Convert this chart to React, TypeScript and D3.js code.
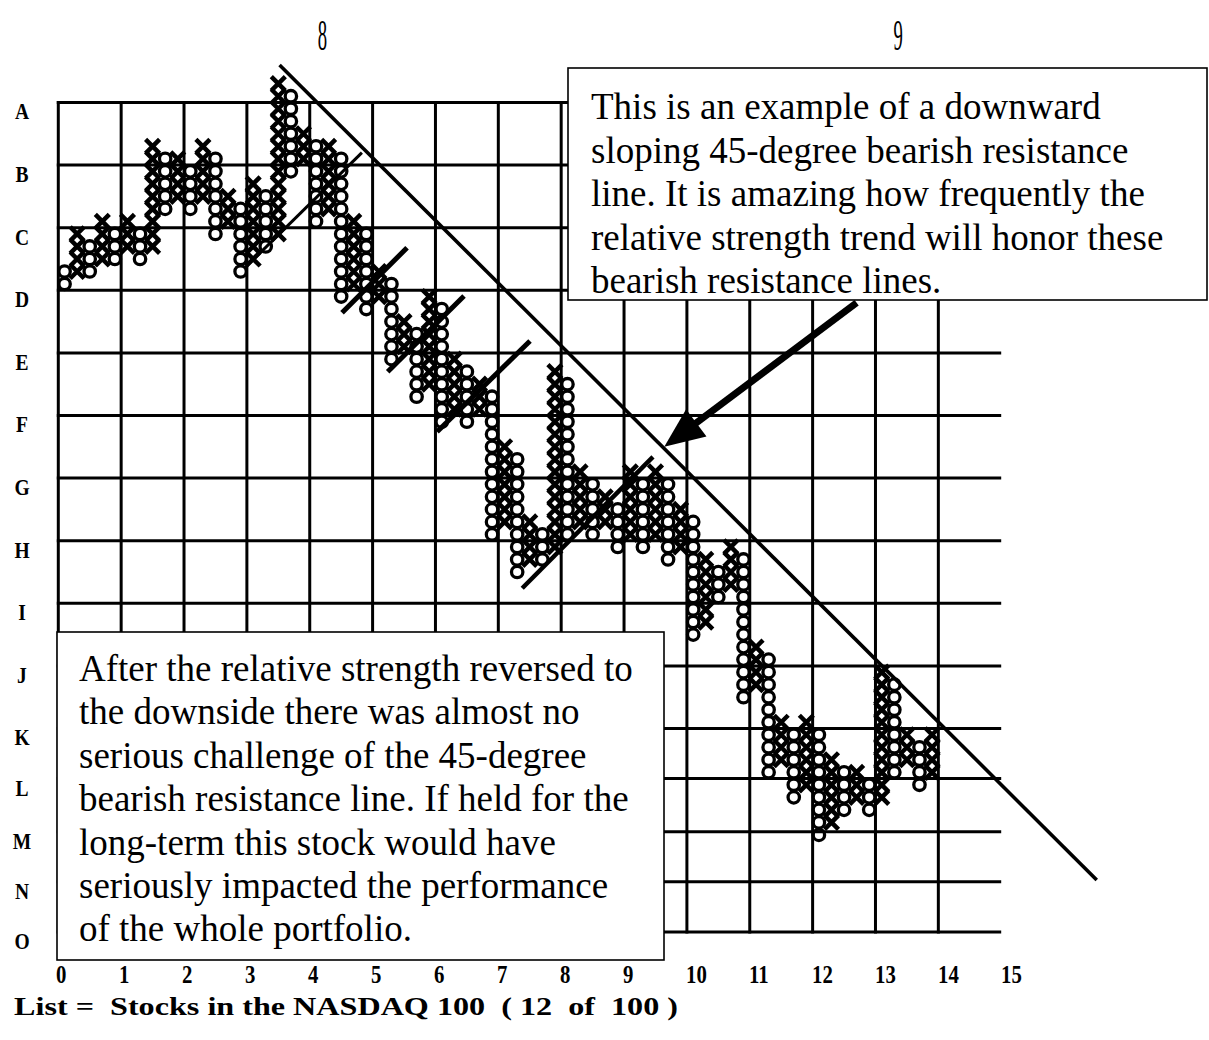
import React from "react";
import * as d3 from "d3";

// Row (box) letters on the left and the grid rows they mark (in box-row units from top)
const rowLabels = ["A", "B", "C", "D", "E", "F", "G", "H", "I", "J", "K", "L", "M", "N", "O"];
const rowLines = [1.5, 6.5, 11.5, 16.5, 21.5, 26.5, 31.5, 36.5, 41.5, 46.5, 51.5, 55.5, 59.75, 63.75, 67.75];
// Column tick labels along the bottom
const colLabels = ["0", "1", "2", "3", "4", "5", "6", "7", "8", "9", "10", "11", "12", "13", "14", "15"];
// Year markers above the chart (column position)
const yearLabels = ["8", "9"];
const yearCols = [21.0, 66.8];

// Point & figure columns: kind, top box row, bottom box row (row 0 = highest box)
const colKinds = "OXOXOXOXOXOXOXOXOXOXOXOXOXOXOXOXOXOXOXOXOXOXOXOXOXOXOXOXOXOXOXOXOXOXOX";
const colTops = [15, 12, 13, 11, 12, 11, 12, 5, 6, 6, 7, 5, 6, 9, 10, 8, 9, 0, 1, 4, 5, 5, 6, 11, 12, 15, 16, 19, 20, 17, 18, 22, 23, 24, 25, 29, 30, 35, 36, 23, 24, 31, 32, 33, 34, 31, 32, 31, 32, 34, 35, 38, 39, 37, 38, 45, 46, 51, 52, 51, 52, 54, 55, 55, 56, 47, 48, 52, 53, 52];
const colBottoms = [16, 15, 15, 14, 14, 13, 14, 13, 10, 9, 10, 9, 12, 11, 15, 14, 13, 12, 7, 6, 11, 10, 17, 16, 18, 17, 22, 21, 25, 24, 27, 26, 27, 26, 36, 35, 39, 38, 38, 37, 36, 35, 36, 35, 37, 36, 37, 36, 38, 37, 44, 43, 41, 40, 49, 48, 55, 54, 57, 56, 60, 59, 58, 57, 58, 57, 55, 54, 56, 55];

// Trend lines in (column, box-row) units
const resistanceLine = [[17.6, -1.5], [82.6, 63.6]];
const supportLine = [[14.85, 14.7], [24.15, 5.5]];
const shortLines = [
  [[22.57, 18.3], [27.74, 13.1]],
  [[26.2, 23.0], [32.27, 16.96]],
  [[30.13, 27.8], [37.52, 20.55]],
  [[36.9, 40.3], [47.3, 29.8]],
];
const arrowLine = [[63.5, 17.5], [48.2, 29.0]];

const topNote = [
  "This is an example of a downward",
  "sloping 45-degree bearish resistance",
  "line. It is amazing how frequently the",
  "relative strength trend will honor these",
  "bearish resistance lines.",
];
const bottomNote = [
  "After the relative strength reversed to",
  "the downside there was almost no",
  "serious challenge of the 45-degree",
  "bearish resistance line. If held for the",
  "long-term this stock would have",
  "seriously impacted the performance",
  "of the whole portfolio.",
];
const footer = "List =  Stocks in the NASDAQ 100  ( 12  of  100 )";

const W = 1209;
const H = 1040;

export default function App() {
  const xCol = d3.scaleLinear().domain([0, 75]).range([58.3, 58.3 + 12.572 * 75]);
  const yRow = d3.scaleLinear().domain([0, 60]).range([83.7, 83.7 + 12.52 * 60]);
  const xLab = d3.scaleLinear().domain([0, 15]).range([56, 1001]);

  const symbols: JSX.Element[] = [];
  colKinds.split("").forEach((k, i) => {
    const cx = xCol(i + 0.5);
    for (let r = colTops[i]; r <= colBottoms[i]; r++) {
      const cy = yRow(r);
      if (k === "O") {
        symbols.push(
          <circle key={`o${i}-${r}`} cx={cx} cy={cy} r={5.7} fill="none" stroke="#000" strokeWidth={3.3} />
        );
      } else {
        const s = 7;
        symbols.push(
          <path
            key={`x${i}-${r}`}
            d={`M${cx - s},${cy - s}L${cx + s},${cy + s}M${cx + s},${cy - s}L${cx - s},${cy + s}`}
            stroke="#000"
            strokeWidth={4.5}
            fill="none"
          />
        );
      }
    }
  });

  const gridTop = yRow(rowLines[0]);
  const gridBottom = yRow(rowLines[rowLines.length - 1]);
  const verticals = d3.range(0, 15).map((k) => xCol(k * 5));

  const P = (p: number[]) => [xCol(p[0]), yRow(p[1])];
  const seg = (a: number[], b: number[], sw: number, key: string) => {
    const [x1, y1] = P(a);
    const [x2, y2] = P(b);
    return <line key={key} x1={x1} y1={y1} x2={x2} y2={y2} stroke="#000" strokeWidth={sw} />;
  };

  // arrow
  const [ax1, ay1] = P(arrowLine[0]);
  const [ax2, ay2] = P(arrowLine[1]);
  const dx = ax2 - ax1;
  const dy = ay2 - ay1;
  const len = Math.hypot(dx, dy);
  const ux = dx / len;
  const uy = dy / len;
  const headL = 40;
  const headW = 17;
  const bx = ax2 - ux * headL;
  const by = ay2 - uy * headL;
  const head = `M${ax2},${ay2}L${bx - uy * headW},${by + ux * headW}L${bx + uy * headW},${by - ux * headW}Z`;

  const serif = "'Liberation Serif', 'Times New Roman', serif";

  return (
    <svg
      width={W}
      height={H}
      viewBox={`0 0 ${W} ${H}`}
      style={{ position: "absolute", left: 0, top: 0, background: "#fff" }}
    >
      <rect x={0} y={0} width={W} height={H} fill="#fff" />
      {/* grid */}
      {rowLines.map((r, i) => (
        <line key={`h${i}`} x1={xCol(0) - 1.5} x2={xCol(75)} y1={yRow(r)} y2={yRow(r)} stroke="#000" strokeWidth={3} />
      ))}
      {verticals.map((x, i) => (
        <line key={`v${i}`} x1={x} x2={x} y1={gridTop - 1.5} y2={gridBottom + 1.5} stroke="#000" strokeWidth={3} />
      ))}
      {/* row letters */}
      {rowLabels.map((t, i) => (
        <text
          key={`rl${i}`}
          transform={`translate(22,${yRow(rowLines[i]) + 17}) scale(0.85,1)`}
          textAnchor="middle"
          fontFamily={serif}
          fontWeight="bold"
          fontSize={23}
        >
          {t}
        </text>
      ))}
      {/* symbols */}
      {symbols}
      {/* trend lines */}
      {seg(resistanceLine[0], resistanceLine[1], 3.6, "res")}
      {seg(supportLine[0], supportLine[1], 3, "sup")}
      {shortLines.map((l, i) => seg(l[0], l[1], i === 3 ? 4.5 : 5, `sl${i}`))}
      {/* annotation boxes */}
      <rect x={568} y={68} width={639} height={232} fill="#fff" stroke="#000" strokeWidth={1.6} />
      {topNote.map((t, i) => (
        <text key={`tn${i}`} x={591} y={119 + i * 43.5} fontFamily={serif} fontSize={37}>
          {t}
        </text>
      ))}
      <rect x={57} y={632} width={607} height={328} fill="#fff" stroke="#000" strokeWidth={1.6} />
      {bottomNote.map((t, i) => (
        <text key={`bn${i}`} x={79} y={681 + i * 43.4} fontFamily={serif} fontSize={37}>
          {t}
        </text>
      ))}
      {/* arrow */}
      <line x1={ax1} y1={ay1} x2={bx + ux * 4} y2={by + uy * 4} stroke="#000" strokeWidth={7} />
      <path d={head} fill="#000" />
      {/* year markers */}
      {yearLabels.map((t, i) => (
        <text
          key={`yr${i}`}
          transform={`translate(${xCol(yearCols[i])},50) scale(0.55,1.3)`}
          textAnchor="middle"
          fontFamily={serif}
          fontSize={34}
        >
          {t}
        </text>
      ))}
      {/* column labels */}
      {colLabels.map((t, i) => (
        <text
          key={`cl${i}`}
          transform={`translate(${xLab(i)},983) scale(0.8,1)`}
          fontFamily={serif}
          fontWeight="bold"
          fontSize={26}
        >
          {t}
        </text>
      ))}
      <text
        x={14}
        y={1015}
        fontFamily={serif}
        fontWeight="bold"
        fontSize={26}
        textLength={664}
        lengthAdjust="spacingAndGlyphs"
        style={{ whiteSpace: "pre" }}
      >
        {footer}
      </text>
    </svg>
  );
}
